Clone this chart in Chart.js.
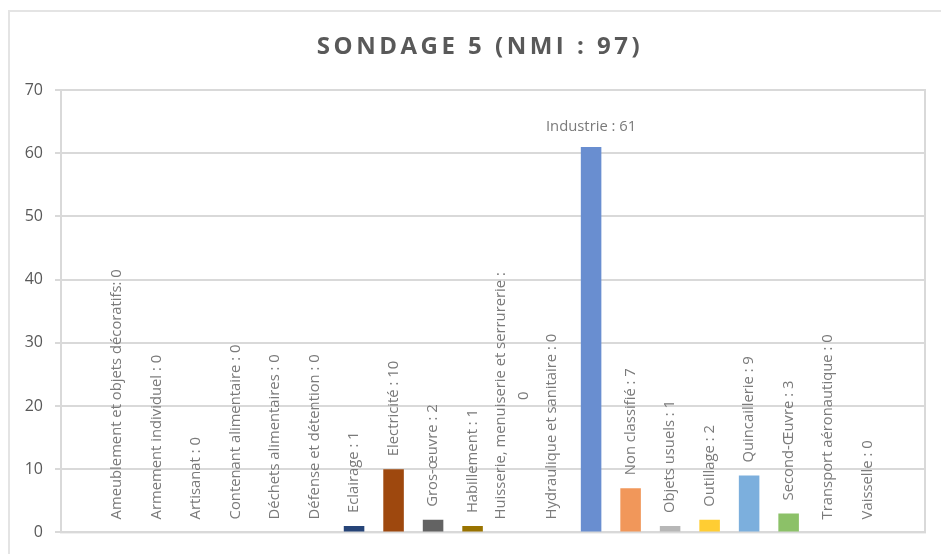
<!DOCTYPE html>
<html>
<head>
<meta charset="utf-8">
<script src="https://cdn.jsdelivr.net/npm/chart.js@4/dist/chart.umd.min.js"></script>
<style>
  html, body { margin: 0; padding: 0; background: #fff; overflow: hidden; }
  #frame { position: absolute; left: 8px; top: 10px; width: 1000px; height: 600px; border: 2px solid #e4e4e4; }
  #wrap { position: absolute; left: 0; top: 0; width: 941px; height: 554px; }
</style>
</head>
<body>
<div id="frame"></div>
<div id="wrap"><canvas id="myChart" width="941" height="554"></canvas></div>
<script>
// categories + NMI per category
var categories = [
  'Ameublement et objets décoratifs', 'Armement individuel', 'Artisanat',
  'Contenant alimentaire', 'Déchets alimentaires', 'Défense et détention',
  'Eclairage', 'Electricité', 'Gros-œuvre', 'Habillement',
  'Huisserie, menuiserie et serrurerie', 'Hydraulique et sanitaire', 'Industrie',
  'Non classifié', 'Objets usuels', 'Outillage', 'Quincaillerie',
  'Second-Œuvre', 'Transport aéronautique', 'Vaisselle'
]
var values = [0, 0, 0, 0, 0, 0, 1, 10, 2, 1, 0, 0, 61, 7, 1, 2, 9, 3, 0, 0]
var barColors = [
  '#4472C4', '#ED7D31', '#A5A5A5', '#FFC000', '#5B9BD5', '#70AD47',
  '#264478', '#9E480E', '#636363', '#997300', '#255E91', '#43682B',
  '#698ED0', '#F1975A', '#B7B7B7', '#FFCD33', '#7CAFDD', '#8CC168',
  '#335AA1', '#D26012'
]
var yTicks = [0, 10, 20, 30, 40, 50, 60, 70]
var total = values.reduce((a, b) => a + b, 0)
var chartTitle = 'SONDAGE 5 (NMI : ' + total + ')'

function labelText(i) {
  // first category is written without the space before the colon
  var sep = i === 0 ? ': ' : ' : '
  return categories[i] + sep + values[i]
}

// spaced-out title, drawn by hand because of the letter spacing
const spacedTitle = {
  id: 'spacedTitle',
  afterDraw(chart) {
    const ctx = chart.ctx
    ctx.save()
    ctx.font = 'bold 24px "Open Sans"'
    ctx.fillStyle = '#595959'
    ctx.letterSpacing = '3.5px'
    ctx.textAlign = 'center'
    ctx.textBaseline = 'middle'
    ctx.fillText(chartTitle, 480, 47)
    ctx.restore()
  }
}

// thin gray box round the plot
const plotFrame = {
  id: 'plotFrame',
  beforeDatasetsDraw(chart) {
    const a = chart.chartArea, ctx = chart.ctx
    ctx.save()
    ctx.strokeStyle = '#d9d9d9'
    ctx.lineWidth = 2
    ctx.strokeRect(a.left, a.top, a.right - a.left, a.bottom - a.top)
    ctx.restore()
  }
}

// value labels : vertical above each bar, horizontal for the tall one
const barLabels = {
  id: 'barLabels',
  afterDatasetsDraw(chart) {
    const ctx = chart.ctx
    const meta = chart.getDatasetMeta(0)
    ctx.save()
    ctx.fillStyle = '#7a7a7a'
    ctx.font = '14.8px "Open Sans"'
    meta.data.forEach((bar, i) => {
      const txt = labelText(i)
      if (values[i] > 40) {
        ctx.textAlign = 'center'
        ctx.textBaseline = 'middle'
        ctx.fillText(txt, bar.x, bar.y - 20)
        return
      }
      ctx.save()
      ctx.translate(bar.x, bar.y - 13)
      ctx.rotate(-Math.PI / 2)
      ctx.textBaseline = 'middle'
      if (ctx.measureText(txt).width > 256) {
        // too long : the value goes on a second line
        const first = categories[i] + ' :'
        const w = ctx.measureText(first).width
        ctx.textAlign = 'left'
        ctx.fillText(first, 0, -11)
        ctx.textAlign = 'center'
        ctx.fillText(String(values[i]), w / 2, 12)
      } else {
        ctx.textAlign = 'left'
        ctx.fillText(txt, 0, 0)
      }
      ctx.restore()
    })
    ctx.restore()
  }
}

const ctx = document.getElementById('myChart')

var chart = new Chart(ctx, {
  type: 'bar',
  data: {
    datasets: [{
      label: 'NMI',
      data: values.map((v, i) => ({ x: i, y: v })),
      backgroundColor: barColors,
      borderWidth: 0,
      barPercentage: 0.52,
      categoryPercentage: 1
    }]
  },
  options: {
    responsive: false,
    animation: false,
    layout: { padding: { left: 0, right: 16, top: 90, bottom: 19 } },
    plugins: {
      legend: { display: false },
      tooltip: { enabled: false },
      title: { display: false }
    },
    scales: {
      x: {
        type: 'linear',
        display: false,
        offset: false,
        min: -1.418,
        max: 20.452
      },
      y: {
        min: 0,
        max: 70,
        afterFit(scale) { scale.width = 61 },
        afterBuildTicks(scale) { scale.ticks = yTicks.map(v => ({ value: v })) },
        ticks: {
          color: '#595959',
          padding: 12,
          font: { family: '"Open Sans"', size: 16 }
        },
        grid: { color: '#d9d9d9', lineWidth: 2, tickLength: 6 },
        border: { display: false }
      }
    }
  },
  plugins: [plotFrame, barLabels, spacedTitle]
})
</script>
</body>
</html>
